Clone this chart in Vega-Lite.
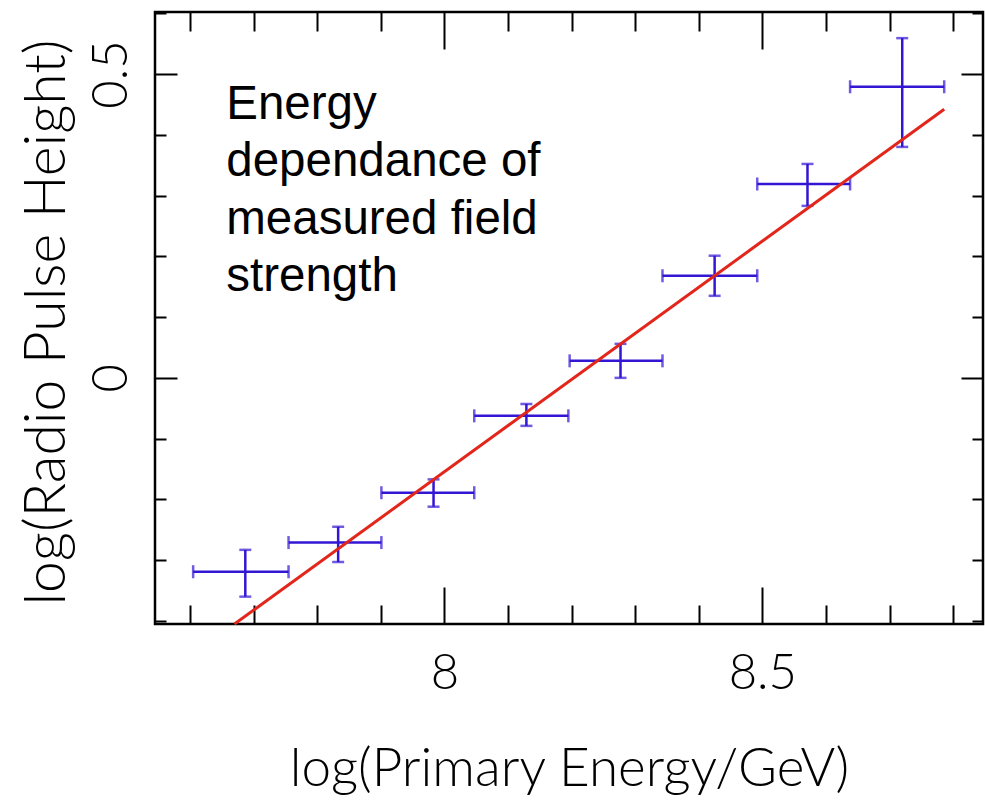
{
  "$schema": "https://vega.github.io/schema/vega-lite/v6.json",
  "width": 828,
  "height": 612,
  "autosize": "none",
  "padding": {"left": 155, "top": 12, "right": 2, "bottom": 178},
  "background": "white",
  "config": {
    "view": {"stroke": "black", "strokeWidth": 2.5},
    "axis": {"domain": false, "grid": false, "labelFlush": false, "labelOverlap": false, "tickColor": "black", "tickWidth": 2, "labelColor": "black", "titleColor": "black"}
  },
  "data": {
    "values": [
      {"x": 7.687, "xlo": 7.605, "xhi": 7.755, "y": -0.319, "ylo": -0.360, "yhi": -0.283},
      {"x": 7.833, "xlo": 7.755, "xhi": 7.901, "y": -0.271, "ylo": -0.303, "yhi": -0.245},
      {"x": 7.983, "xlo": 7.901, "xhi": 8.047, "y": -0.189, "ylo": -0.212, "yhi": -0.167},
      {"x": 8.129, "xlo": 8.047, "xhi": 8.195, "y": -0.0625, "ylo": -0.079, "yhi": -0.043},
      {"x": 8.277, "xlo": 8.197, "xhi": 8.343, "y": 0.028, "ylo": 0.0, "yhi": 0.056},
      {"x": 8.425, "xlo": 8.343, "xhi": 8.492, "y": 0.168, "ylo": 0.135, "yhi": 0.201},
      {"x": 8.571, "xlo": 8.492, "xhi": 8.638, "y": 0.319, "ylo": 0.283, "yhi": 0.352},
      {"x": 8.720, "xlo": 8.638, "xhi": 8.786, "y": 0.479, "ylo": 0.380, "yhi": 0.559}
    ]
  },
  "resolve": {"axis": {"x": "independent", "y": "independent"}},
  "layer": [
    {
      "mark": {"type": "rule", "color": "#3216d4", "strokeWidth": 2.5},
      "encoding": {
        "x": {"field": "xlo", "type": "quantitative", "scale": {"domain": [7.545, 8.847], "nice": false, "zero": false},
          "axis": {"orient": "bottom", "values": [8, 8.5], "format": "~g", "ticks": false, "labelFont": "Lato", "labelFontWeight": 300, "labelFontSize": 49, "labelBaseline": "alphabetic", "labelPadding": 64,
            "title": "log(Primary Energy/GeV)", "titleFont": "Lato", "titleFontWeight": 300, "titleFontSize": 53, "titleBaseline": "alphabetic", "titleY": 161, "titleX": 414, "titleAlign": "center"}},
        "x2": {"field": "xhi"},
        "y": {"field": "y", "type": "quantitative", "scale": {"domain": [-0.405, 0.602], "nice": false, "zero": false},
          "axis": {"orient": "left", "values": [0, 0.5], "format": "~g", "ticks": false, "labelFont": "Lato", "labelFontWeight": 300, "labelFontSize": 49, "labelAngle": 270, "labelAlign": "center", "labelBaseline": "alphabetic", "labelPadding": 29,
            "title": "log(Radio Pulse Height)", "titleFont": "Lato", "titleFontWeight": 300, "titleFontSize": 57, "titleAngle": 270, "titleBaseline": "alphabetic", "titleAlign": "center", "titleX": -91, "titleY": 310}}
      }
    },
    {
      "mark": {"type": "rule", "color": "#3216d4", "strokeWidth": 2.5},
      "encoding": {
        "x": {"field": "x", "type": "quantitative", "scale": {"domain": [7.545, 8.847], "nice": false, "zero": false},
          "axis": {"orient": "bottom", "values": [7.6, 7.7, 7.8, 7.9, 8.1, 8.2, 8.3, 8.4, 8.6, 8.7, 8.8], "labels": false, "title": null, "tickSize": -19}},
        "y": {"field": "ylo", "type": "quantitative", "scale": {"domain": [-0.405, 0.602], "nice": false, "zero": false},
          "axis": {"orient": "left", "values": [-0.4, -0.3, -0.2, -0.1, 0.1, 0.2, 0.3, 0.4, 0.6], "labels": false, "title": null, "tickSize": -11}},
        "y2": {"field": "yhi"}
      }
    },
    {
      "mark": {"type": "tick", "orient": "horizontal", "color": "#3216d4", "size": 12, "thickness": 2.5},
      "encoding": {
        "x": {"field": "x", "type": "quantitative", "scale": {"domain": [7.545, 8.847], "nice": false, "zero": false},
          "axis": {"orient": "top", "values": [7.6, 7.7, 7.8, 7.9, 8.1, 8.2, 8.3, 8.4, 8.6, 8.7, 8.8], "labels": false, "title": null, "tickSize": -19}},
        "y": {"field": "ylo", "type": "quantitative", "scale": {"domain": [-0.405, 0.602], "nice": false, "zero": false},
          "axis": {"orient": "right", "values": [-0.4, -0.3, -0.2, -0.1, 0.1, 0.2, 0.3, 0.4, 0.6], "labels": false, "title": null, "tickSize": -11}}
      }
    },
    {
      "mark": {"type": "tick", "orient": "horizontal", "color": "#3216d4", "size": 12, "thickness": 2.5},
      "encoding": {
        "x": {"field": "x", "type": "quantitative", "scale": {"domain": [7.545, 8.847], "nice": false, "zero": false},
          "axis": {"orient": "bottom", "values": [8, 8.5], "labels": false, "title": null, "tickSize": -37}},
        "y": {"field": "yhi", "type": "quantitative", "scale": {"domain": [-0.405, 0.602], "nice": false, "zero": false},
          "axis": {"orient": "left", "values": [0, 0.5], "labels": false, "title": null, "tickSize": -22}}
      }
    },
    {
      "mark": {"type": "tick", "orient": "vertical", "color": "#3216d4", "size": 13, "thickness": 2.5},
      "encoding": {
        "x": {"field": "xlo", "type": "quantitative", "scale": {"domain": [7.545, 8.847], "nice": false, "zero": false},
          "axis": {"orient": "top", "values": [8, 8.5], "labels": false, "title": null, "tickSize": -37}},
        "y": {"field": "y", "type": "quantitative", "scale": {"domain": [-0.405, 0.602], "nice": false, "zero": false},
          "axis": {"orient": "right", "values": [0, 0.5], "labels": false, "title": null, "tickSize": -22}}
      }
    },
    {
      "mark": {"type": "tick", "orient": "vertical", "color": "#3216d4", "size": 13, "thickness": 2.5},
      "encoding": {
        "x": {"field": "xhi", "type": "quantitative", "axis": null},
        "y": {"field": "y", "type": "quantitative", "axis": null}
      }
    },
    {
      "data": {"values": [{"x": 7.67, "y": -0.405}, {"x": 8.786, "y": 0.442}]},
      "mark": {"type": "line", "color": "#e3261b", "strokeWidth": 3},
      "encoding": {
        "x": {"field": "x", "type": "quantitative", "axis": null},
        "y": {"field": "y", "type": "quantitative", "axis": null}
      }
    },
    {
      "data": {"values": [{"x": 7.657, "y": 0.426, "label": ["Energy", "dependance of", "measured field", "strength"]}]},
      "mark": {"type": "text", "align": "left", "baseline": "alphabetic", "font": "Liberation Sans", "fontSize": 47.5, "lineHeight": 57.5, "color": "black"},
      "encoding": {
        "x": {"field": "x", "type": "quantitative", "axis": null},
        "y": {"field": "y", "type": "quantitative", "axis": null},
        "text": {"field": "label"}
      }
    }
  ]
}
